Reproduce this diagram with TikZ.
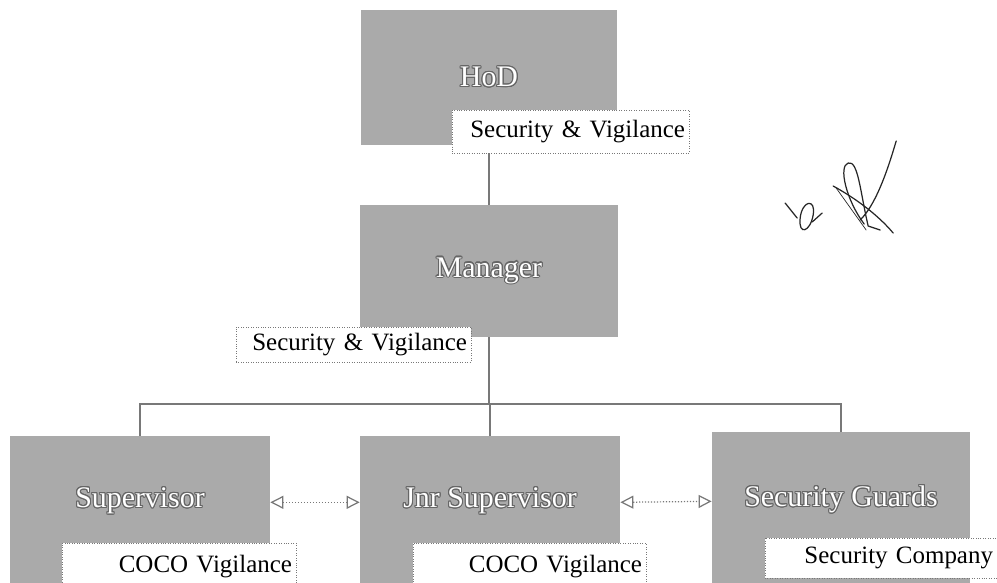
\documentclass[tikz,border=0pt]{standalone}
\usepackage{fontspec}
\setmainfont{Liberation Serif}
\usepackage{contour}
\contourlength{0.6pt}
\usetikzlibrary{arrows.meta}
\definecolor{boxgray}{RGB}{170,170,170}
\definecolor{linegray}{RGB}{120,120,120}
\newcommand{\posttext}[1]{{\color{white}\contour{black!60}{#1}}}
\begin{document}
\begin{tikzpicture}[
  post/.style={fill=boxgray, inner sep=0pt, font=\fontsize{17}{20}\selectfont},
  unit/.style={draw=linegray, densely dotted, fill=white, inner xsep=0.08cm, inner ysep=0pt, align=right, font=\fontsize{14.2}{16}\selectfont},
  link/.style={draw=linegray, line width=0.7pt},
  peer/.style={link, densely dotted, {Triangle[open,length=0.26cm,width=0.26cm]}-{Triangle[open,length=0.26cm,width=0.26cm]}}
]
\useasboundingbox (0,0) rectangle (19.94,11.66);
\clip (0,0) rectangle (19.94,11.66);

% posts
\node[post, minimum width=5.12cm, minimum height=2.7cm] (hod) at (9.78,10.11) {\posttext{HoD}};
\node[post, minimum width=5.16cm, minimum height=2.64cm] (mgr) at (9.78,6.24) {\posttext{Manager}};
\node[post, anchor=north, minimum width=5.2cm, text height=1.42cm, text depth=1.8cm] (sup) at (2.8,2.94) {\posttext{Supervisor}};
\node[post, anchor=north, minimum width=5.2cm, text height=1.42cm, text depth=1.8cm] (jnr) at (9.8,2.94) {\posttext{Jnr Supervisor}};
\node[post, anchor=north, minimum width=5.16cm, text height=1.48cm, text depth=1.8cm] (grd) at (16.82,3.02) {\posttext{Security Guards}};

% reporting lines
\coordinate (bar) at (9.78,3.58);
\draw[link] (hod.south) -- (mgr.north);
\draw[link] (mgr.south) -- (bar);
\draw[link] (sup.north) |- (bar) -| (grd.north);
\draw[link] (bar) -- (bar -| jnr.north) -- (jnr.north);
\draw[peer] ([yshift=0.02cm]sup.mid east) -- ([yshift=0.02cm]jnr.mid west);
\draw[peer] ([yshift=0.02cm]jnr.mid east) -- ([yshift=0.02cm]grd.mid west);

% units
\node[unit, text width=4.58cm, minimum height=0.86cm] (hodunit) at (11.41,9.03) {Security \& Vigilance};
\node[unit, text width=4.54cm, minimum height=0.7cm] (mgrunit) at (7.07,4.77) {Security \& Vigilance};
\node[unit, text width=4.52cm, minimum height=0.94cm] (supunit) at (3.58,0.33) {COCO Vigilance};
\node[unit, text width=4.5cm, minimum height=0.94cm] (jnrunit) at (10.59,0.33) {COCO Vigilance};
\node[unit, text width=4.48cm, minimum height=0.8cm] (grdunit) at (17.62,0.5) {Security Company};

% initials
\begin{scope}[shift={(0,11.66)}, x=0.02cm, y=-0.02cm, draw=black!85, line width=0.7pt, line cap=round]
\draw (896,141) .. controls (886,175) and (875,205) .. (860,220);
\draw (864,224) .. controls (846,200) and (838,166) .. (848,163) .. controls (858,160) and (860,192) .. (868,226) -- (880,230);
\draw (833,186) .. controls (855,198) and (878,215) .. (893,233);
\draw[line width=0.4pt] (836,188) -- (866,230);
\draw (785,203) -- (797,218);
\draw (800,218) .. controls (802,200) and (816,198) .. (813,215) .. controls (810,232) and (798,236) .. (800,218);
\draw (812,222) -- (822,213);
\end{scope}
\end{tikzpicture}
\end{document}
